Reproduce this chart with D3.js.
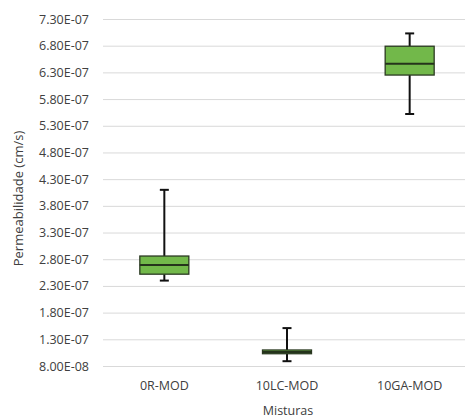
<!DOCTYPE html>
<html>
<head>
<meta charset="utf-8">
<script src="https://cdn.jsdelivr.net/npm/d3@7"></script>
<style>
  body { margin: 0; background: #fff; }
  text { font-family: "Open Sans", sans-serif; fill: #404040; }
</style>
</head>
<body>
<div id="container"></div>
<script>
// Box plot data (cm/s)
const misturas = ['0R-MOD', '10LC-MOD', '10GA-MOD'];
const minimos  = [2.40e-7, 0.89e-7, 5.52e-7];
const q1s      = [2.52e-7, 1.03e-7, 6.25e-7];
const medianas = [2.69e-7, 1.06e-7, 6.46e-7];
const q3s      = [2.86e-7, 1.10e-7, 6.79e-7];
const maximos  = [4.10e-7, 1.51e-7, 7.03e-7];
const yTicks   = [8.0e-8, 1.3e-7, 1.8e-7, 2.3e-7, 2.8e-7, 3.3e-7, 3.8e-7, 4.3e-7,
                  4.8e-7, 5.3e-7, 5.8e-7, 6.3e-7, 6.8e-7, 7.3e-7];

const width = 465, height = 419;
const plot = { left: 103, right: 471, top: 19, bottom: 366 };

const svg = d3.select('#container').append('svg')
  .attr('width', width)
  .attr('height', height);

//_____ SCALES _____
const x = d3.scaleBand()
  .domain(misturas)
  .range([plot.left, plot.right]);

const y = d3.scaleLinear()
  .domain([8.0e-8, 7.3e-7])
  .range([plot.bottom, plot.top]);

//_____ GRIDLINES + Y AXIS _____
const yAxis = d3.axisLeft(y)
  .tickValues(yTicks)
  .tickSize(-(plot.right - plot.left))
  .tickPadding(14)
  .tickFormat(d => d.toExponential(2).toUpperCase().replace(/E([+-])(\d)$/, 'E$10$2'));

const yg = svg.append('g')
  .attr('transform', `translate(${plot.left},0)`)
  .call(yAxis);
yg.select('.domain').remove();
yg.selectAll('line').attr('stroke', '#d9d9d9').attr('stroke-width', 1);
yg.selectAll('text').style('font-size', '12.5px').attr('fill', '#404040');

//_____ X AXIS LABELS _____
const xg = svg.append('g')
  .attr('transform', `translate(0,${plot.bottom})`)
  .call(d3.axisBottom(x).tickSize(0).tickPadding(15));
xg.select('.domain').remove();
xg.selectAll('text').style('font-size', '12.5px').attr('fill', '#404040');

//_____ BOXES _____
const boxData = misturas.map((m, i) => ({
  m, min: minimos[i], q1: q1s[i], med: medianas[i], q3: q3s[i], max: maximos[i]
}));
const boxW = 49, capW = 9;

const box = svg.append('g').selectAll('g')
  .data(boxData)
  .join('g')
  .attr('transform', d => `translate(${x(d.m) + x.bandwidth() / 2},0)`);

// whiskers
box.append('line')
  .attr('y1', d => y(d.max)).attr('y2', d => y(d.q3))
  .attr('stroke', '#111').attr('stroke-width', 2);
box.append('line')
  .attr('y1', d => y(d.q1)).attr('y2', d => y(d.min))
  .attr('stroke', '#111').attr('stroke-width', 2);
// caps
box.append('line')
  .attr('x1', -capW / 2).attr('x2', capW / 2)
  .attr('y1', d => y(d.max)).attr('y2', d => y(d.max))
  .attr('stroke', '#111').attr('stroke-width', 2);
box.append('line')
  .attr('x1', -capW / 2).attr('x2', capW / 2)
  .attr('y1', d => y(d.min)).attr('y2', d => y(d.min))
  .attr('stroke', '#111').attr('stroke-width', 2);
// box
box.append('rect')
  .attr('x', -boxW / 2)
  .attr('width', boxW)
  .attr('y', d => y(d.q3))
  .attr('height', d => y(d.q1) - y(d.q3))
  .attr('fill', '#72b84a')
  .attr('stroke', '#2b3a22')
  .attr('stroke-width', 1.3);
// median
box.append('line')
  .attr('x1', -boxW / 2).attr('x2', boxW / 2)
  .attr('y1', d => y(d.med)).attr('y2', d => y(d.med))
  .attr('stroke', '#24331b').attr('stroke-width', 2);

//_____ AXIS TITLES _____
svg.append('text')
  .attr('transform', `translate(23,${(plot.top + plot.bottom) / 2 + 6}) rotate(-90)`)
  .attr('text-anchor', 'middle')
  .style('font-size', '13px')
  .text('Permeabilidade (cm/s)');

svg.append('text')
  .attr('x', 288)
  .attr('y', 415)
  .attr('text-anchor', 'middle')
  .style('font-size', '12.5px')
  .text('Misturas');
</script>
</body>
</html>
